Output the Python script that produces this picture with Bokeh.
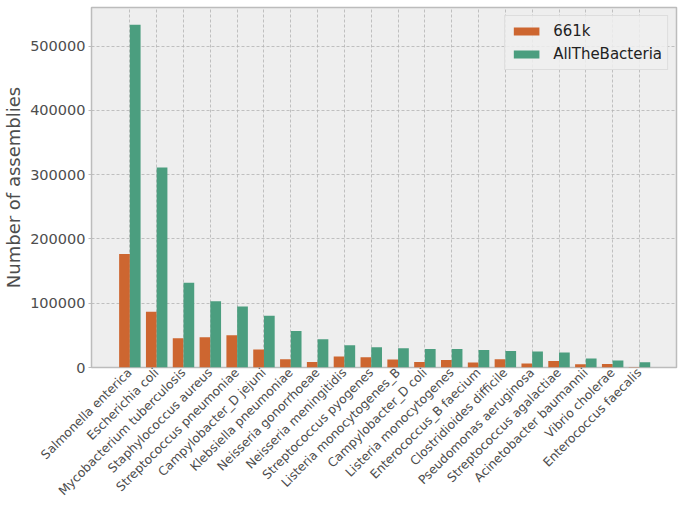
import numpy as np
from bokeh.plotting import figure
from bokeh.models import ColumnDataSource, FixedTicker, Range1d, BasicTickFormatter
from bokeh.transform import dodge
from bokeh.embed import file_html
from bokeh.resources import INLINE

species = [
    "Salmonella enterica", "Escherichia coli", "Mycobacterium tuberculosis",
    "Staphylococcus aureus", "Streptococcus pneumoniae", "Campylobacter_D jejuni",
    "Klebsiella pneumoniae", "Neisseria gonorrhoeae", "Neisseria meningitidis",
    "Streptococcus pyogenes", "Listeria monocytogenes_B", "Campylobacter_D coli",
    "Listeria monocytogenes", "Enterococcus_B faecium", "Clostridioides difficile",
    "Pseudomonas aeruginosa", "Streptococcus agalactiae", "Acinetobacter baumannii",
    "Vibrio cholerae", "Enterococcus faecalis",
]
k661 = [176500, 86700, 45400, 46900, 50000, 27900, 12900, 8700, 17000, 15900,
        12400, 8700, 11800, 7700, 12900, 6200, 10200, 5100, 5600, 800]
atb = [533000, 311100, 132000, 103100, 94900, 80500, 56700, 43800, 34500, 31400,
       29900, 28800, 28800, 27300, 25700, 24800, 23200, 13900, 10800, 8200]
y_ticks = [0, 100000, 200000, 300000, 400000, 500000]

FONT = "DejaVu Sans"
TXT = "#4d4d4d"

idx = list(range(len(species)))
src = ColumnDataSource(dict(x=idx, k661=k661, atb=atb))

p = figure(width=680, height=505, output_backend="svg", toolbar_location=None,
           x_range=Range1d(-1.43, 20.38), y_range=Range1d(0, 560000),
           min_border_left=91, min_border_right=4, min_border_top=7,
           min_border_bottom=136)

p.vbar(x=dodge("x", -0.2), top="k661", width=0.4, source=src,
       fill_color="#cd6630", line_color=None, legend_label="661k")
p.vbar(x=dodge("x", 0.2), top="atb", width=0.4, source=src,
       fill_color="#4b9e7f", line_color=None, legend_label="AllTheBacteria")

p.background_fill_color = "#eeeeee"
p.border_fill_color = "white"
p.outline_line_color = "#bcbcbc"
p.outline_line_width = 1.5

p.xaxis.ticker = FixedTicker(ticks=idx)
p.xaxis.major_label_overrides = {i: s for i, s in enumerate(species)}
p.xaxis.major_label_orientation = np.pi / 4
p.xaxis.major_label_text_font = FONT
p.xaxis.major_label_text_font_size = "12.3px"
p.xaxis.major_label_text_color = TXT
p.xaxis.major_label_standoff = 3
p.xaxis.major_tick_out = 0
p.xaxis.major_tick_in = 0
p.xaxis.minor_tick_line_color = None
p.xaxis.axis_line_color = None

p.yaxis.ticker = FixedTicker(ticks=y_ticks)
p.yaxis.formatter = BasicTickFormatter(use_scientific=False)
p.yaxis.major_label_text_font = FONT
p.yaxis.major_label_text_font_size = "14.5px"
p.yaxis.major_label_text_color = TXT
p.yaxis.major_label_standoff = 3
p.yaxis.major_tick_out = 3
p.yaxis.major_tick_in = 0
p.yaxis.major_tick_line_color = "#bcbcbc"
p.yaxis.minor_tick_line_color = None
p.yaxis.axis_line_color = None
p.yaxis.axis_label = "Number of assemblies"
p.yaxis.axis_label_text_font = FONT
p.yaxis.axis_label_text_font_size = "18px"
p.yaxis.axis_label_text_font_style = "normal"
p.yaxis.axis_label_text_color = TXT
p.yaxis.axis_label_standoff = 3

for g in (p.xgrid, p.ygrid):
    g.grid_line_color = "#b2b2b2"
    g.grid_line_dash = "3 2"
    g.grid_line_width = 0.8

lg = p.legend[0]
lg.location = "top_right"
lg.margin = 8
lg.padding = 5
lg.spacing = 3
lg.glyph_width = 32
lg.glyph_height = 10
lg.label_height = 20
lg.label_standoff = 11
lg.label_text_font = FONT
lg.label_text_font_size = "15px"
lg.label_text_color = "#222222"
lg.background_fill_color = "#eeeeee"
lg.background_fill_alpha = 0.85
lg.border_line_color = "#cccccc"
lg.border_line_width = 1

open("out.html", "w").write(file_html(p, INLINE))
